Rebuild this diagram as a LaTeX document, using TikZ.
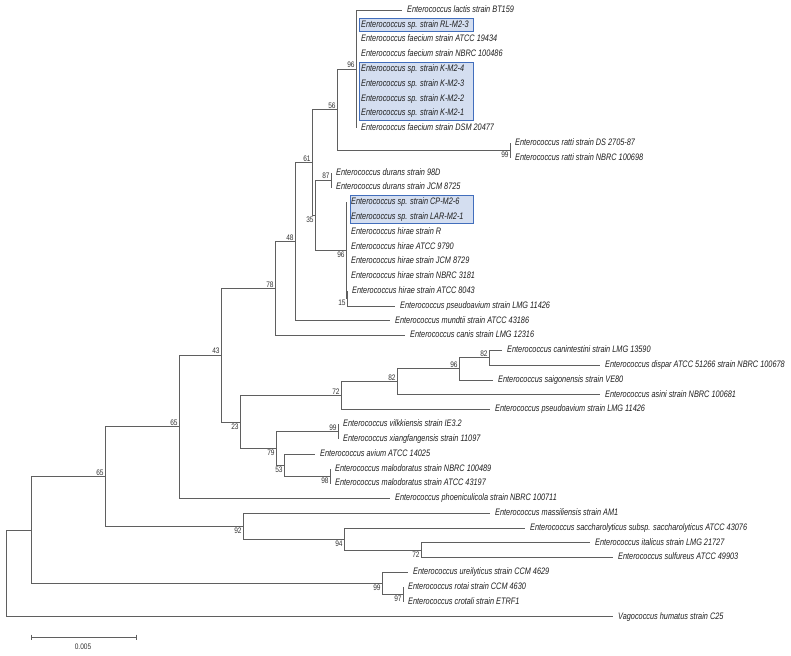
\documentclass[tikz,border=0pt]{standalone}
\usepackage{fontspec}
\usepackage{tikz}
\usetikzlibrary{positioning, backgrounds}
\newfontfamily\leaffont[FakeStretch=0.78]{Liberation Sans}
\newfontfamily\bsfont[FakeStretch=0.82]{Liberation Sans}
\definecolor{brgray}{RGB}{95,95,95}
\definecolor{boxfill}{RGB}{212,222,240}
\definecolor{boxline}{RGB}{66,110,188}

\tikzset{
    leaf/.style={anchor=west, inner xsep=5pt, inner ysep=2.25pt, text height=6.5pt, text depth=2pt,
        font=\leaffont\itshape\fontsize{9.4}{10}\selectfont, text=black!88},
    bsup/.style={anchor=south east, inner sep=1.2pt, font=\bsfont\fontsize{8}{8}\selectfont, text=black!80},
    bsdn/.style={anchor=north east, inner sep=1.2pt, font=\bsfont\fontsize{8}{8}\selectfont, text=black!80},
    twig/.style={draw=brgray, line width=0.85pt},
    hibox/.style={fill=boxfill, draw=boxline, line width=0.9pt}
}

\begin{document}
\begin{tikzpicture}[x=1pt, y=-1pt]
    \useasboundingbox (0,0) rectangle (791,655);

    % inner nodes
    \coordinate (root) at (6,573.4);
    \coordinate (nA) at (31,530);
    \coordinate (n65a) at (105,476.5);
    \coordinate (n65b) at (179,426.9);
    \coordinate (n43) at (221,355.4);
    \coordinate (n78) at (275,288.65);
    \coordinate (n48) at (295,241.7);
    \coordinate (n61) at (312,162.6);
    \coordinate (n56) at (337,109.9);
    \coordinate (n96a) at (356,69.2);
    \coordinate (n99r) at (510,150.6);
    \coordinate (n35) at (315,215.35);
    \coordinate (n87) at (331,180.2);
    \coordinate (n96b) at (346,250.5);
    \coordinate (n15) at (347,298.6);
    \coordinate (n23) at (240,422.1);
    \coordinate (n72) at (341,395.7);
    \coordinate (n82) at (397,381.85);
    \coordinate (n96c) at (459,368.9);
    \coordinate (n82b) at (489,357.8);
    \coordinate (n79) at (276,448.45);
    \coordinate (n99b) at (338,431.8);
    \coordinate (n53) at (284,465.1);
    \coordinate (n98) at (330,476.2);
    \coordinate (n92) at (243,526.15);
    \coordinate (n94) at (344,539.1);
    \coordinate (n72b) at (421,550.2);
    \coordinate (n99c) at (382,583.5);
    \coordinate (n97) at (403,594.6);
    \coordinate (boxr) at (473,0);

    % leaves
    \node[leaf] (lactis) at (402,10) {Enterococcus lactis strain BT159};
    \node[leaf] (rl) at (356,24.8) {Enterococcus sp. strain RL-M2-3};
    \node[leaf] (fm1) at (356,39.6) {Enterococcus faecium strain ATCC 19434};
    \node[leaf] (fm2) at (356,54.4) {Enterococcus faecium strain NBRC 100486};
    \node[leaf] (km4) at (356,69.2) {Enterococcus sp. strain K-M2-4};
    \node[leaf] (km3) at (356,84) {Enterococcus sp. strain K-M2-3};
    \node[leaf] (km2) at (356,98.8) {Enterococcus sp. strain K-M2-2};
    \node[leaf] (km1) at (356,113.6) {Enterococcus sp. strain K-M2-1};
    \node[leaf] (fm3) at (356,128.4) {Enterococcus faecium strain DSM 20477};
    \node[leaf] (rat1) at (510,143.2) {Enterococcus ratti strain DS 2705-87};
    \node[leaf] (rat2) at (510,158) {Enterococcus ratti strain NBRC 100698};
    \node[leaf] (dur1) at (331,172.8) {Enterococcus durans strain 98D};
    \node[leaf] (dur2) at (331,187.6) {Enterococcus durans strain JCM 8725};
    \node[leaf] (cp) at (346,202.4) {Enterococcus sp. strain CP-M2-6};
    \node[leaf] (lar) at (346,217.2) {Enterococcus sp. strain LAR-M2-1};
    \node[leaf] (hir1) at (346,232) {Enterococcus hirae strain R};
    \node[leaf] (hir2) at (346,246.8) {Enterococcus hirae ATCC 9790};
    \node[leaf] (hir3) at (346,261.6) {Enterococcus hirae strain JCM 8729};
    \node[leaf] (hir4) at (346,276.4) {Enterococcus hirae strain NBRC 3181};
    \node[leaf] (hir5) at (347,291.2) {Enterococcus hirae strain ATCC 8043};
    \node[leaf] (psa1) at (395,306) {Enterococcus pseudoavium strain LMG 11426};
    \node[leaf] (mun) at (390,320.8) {Enterococcus mundtii strain ATCC 43186};
    \node[leaf] (can) at (405,335.6) {Enterococcus canis strain LMG 12316};
    \node[leaf] (cnt) at (502,350.4) {Enterococcus canintestini strain LMG 13590};
    \node[leaf] (dis) at (600,365.2) {Enterococcus dispar ATCC 51266 strain NBRC 100678};
    \node[leaf] (sai) at (493,380) {Enterococcus saigonensis strain VE80};
    \node[leaf] (asi) at (600,394.8) {Enterococcus asini strain NBRC 100681};
    \node[leaf] (psa2) at (490,409.6) {Enterococcus pseudoavium strain LMG 11426};
    \node[leaf] (vil) at (338,424.4) {Enterococcus vilkkiensis strain IE3.2};
    \node[leaf] (xia) at (338,439.2) {Enterococcus xiangfangensis strain 11097};
    \node[leaf] (avi) at (315,454) {Enterococcus avium ATCC 14025};
    \node[leaf] (mal1) at (330,468.8) {Enterococcus malodoratus strain NBRC 100489};
    \node[leaf] (mal2) at (330,483.6) {Enterococcus malodoratus strain ATCC 43197};
    \node[leaf] (pho) at (390,498.4) {Enterococcus phoeniculicola strain NBRC 100711};
    \node[leaf] (mas) at (490,513.2) {Enterococcus massiliensis strain AM1};
    \node[leaf] (sac) at (525,528) {Enterococcus saccharolyticus subsp. saccharolyticus ATCC 43076};
    \node[leaf] (ita) at (590,542.8) {Enterococcus italicus strain LMG 21727};
    \node[leaf] (sul) at (613,557.6) {Enterococcus sulfureus ATCC 49903};
    \node[leaf] (ure) at (408,572.4) {Enterococcus ureilyticus strain CCM 4629};
    \node[leaf] (rot) at (403,587.2) {Enterococcus rotai strain CCM 4630};
    \node[leaf] (cro) at (403,602) {Enterococcus crotali strain ETRF1};
    \node[leaf] (vag) at (613,616.8) {Vagococcus humatus strain C25};

    % highlighted isolates
    \begin{scope}[on background layer]
        \draw[hibox] ([xshift=3pt]rl.north west) rectangle (rl.south west -| boxr);
        \draw[hibox] ([xshift=3pt]km4.north west) rectangle (km1.south west -| boxr);
        \draw[hibox] ([xshift=4pt]cp.north west) rectangle (lar.south west -| boxr);
    \end{scope}

    % branches
    \path[twig]
        (root) |- (nA) (root) |- (vag.west)
        (nA) |- (n65a) (nA) |- (n99c)
        (n65a) |- (n65b) (n65a) |- (n92)
        (n65b) |- (n43) (n65b) |- (pho.west)
        (n43) |- (n78) (n43) |- (n23)
        (n78) |- (n48) (n78) |- (can.west)
        (n48) |- (n61) (n48) |- (mun.west)
        (n61) |- (n56) (n61) |- (n35)
        (n56) |- (n96a) (n56) |- (n99r)
        (n96a) |- (lactis.west) (n96a) |- (fm3.west)
        (n99r) |- (rat1.west) (n99r) |- (rat2.west)
        (n35) |- (n87) (n35) |- (n96b)
        (n87) |- (dur1.west) (n87) |- (dur2.west)
        (n96b) |- (cp.west) (n96b) |- (n15)
        (n15) |- (hir5.west) (n15) |- (psa1.west)
        (n23) |- (n72) (n23) |- (n79)
        (n72) |- (n82) (n72) |- (psa2.west)
        (n82) |- (n96c) (n82) |- (asi.west)
        (n96c) |- (n82b) (n96c) |- (sai.west)
        (n82b) |- (cnt.west) (n82b) |- (dis.west)
        (n79) |- (n99b) (n79) |- (n53)
        (n99b) |- (vil.west) (n99b) |- (xia.west)
        (n53) |- (avi.west) (n53) |- (n98)
        (n98) |- (mal1.west) (n98) |- (mal2.west)
        (n92) |- (mas.west) (n92) |- (n94)
        (n94) |- (sac.west) (n94) |- (n72b)
        (n72b) |- (ita.west) (n72b) |- (sul.west)
        (n99c) |- (ure.west) (n99c) |- (n97)
        (n97) |- (rot.west) (n97) |- (cro.west);

    % bootstrap values
    \foreach \n/\v in {n96a/96, n56/56, n61/61, n48/48, n78/78, n43/43, n65b/65, n65a/65,
                       n87/87, n72/72, n82/82, n96c/96, n82b/82, n99b/99}
        \node[bsup] (b\n) at (\n) {\v};
    \foreach \n/\v in {n99r/99, n35/35, n96b/96, n15/15, n23/23, n79/79, n53/53, n98/98,
                       n92/92, n94/94, n72b/72, n99c/99, n97/97}
        \node[bsdn] (b\n) at (\n) {\v};

    % scale bar
    \coordinate (sb1) at (31,637);
    \coordinate (sb2) at (136,637);
    \draw[twig] (sb1) -- (sb2);
    \draw[twig] ([yshift=2.5pt]sb1) -- ([yshift=-2.5pt]sb1);
    \draw[twig] ([yshift=2.5pt]sb2) -- ([yshift=-2.5pt]sb2);
    \node[font=\bsfont\fontsize{8}{8}\selectfont, text=black!80] (sblab) at (83,647) {0.005};
\end{tikzpicture}
\end{document}
